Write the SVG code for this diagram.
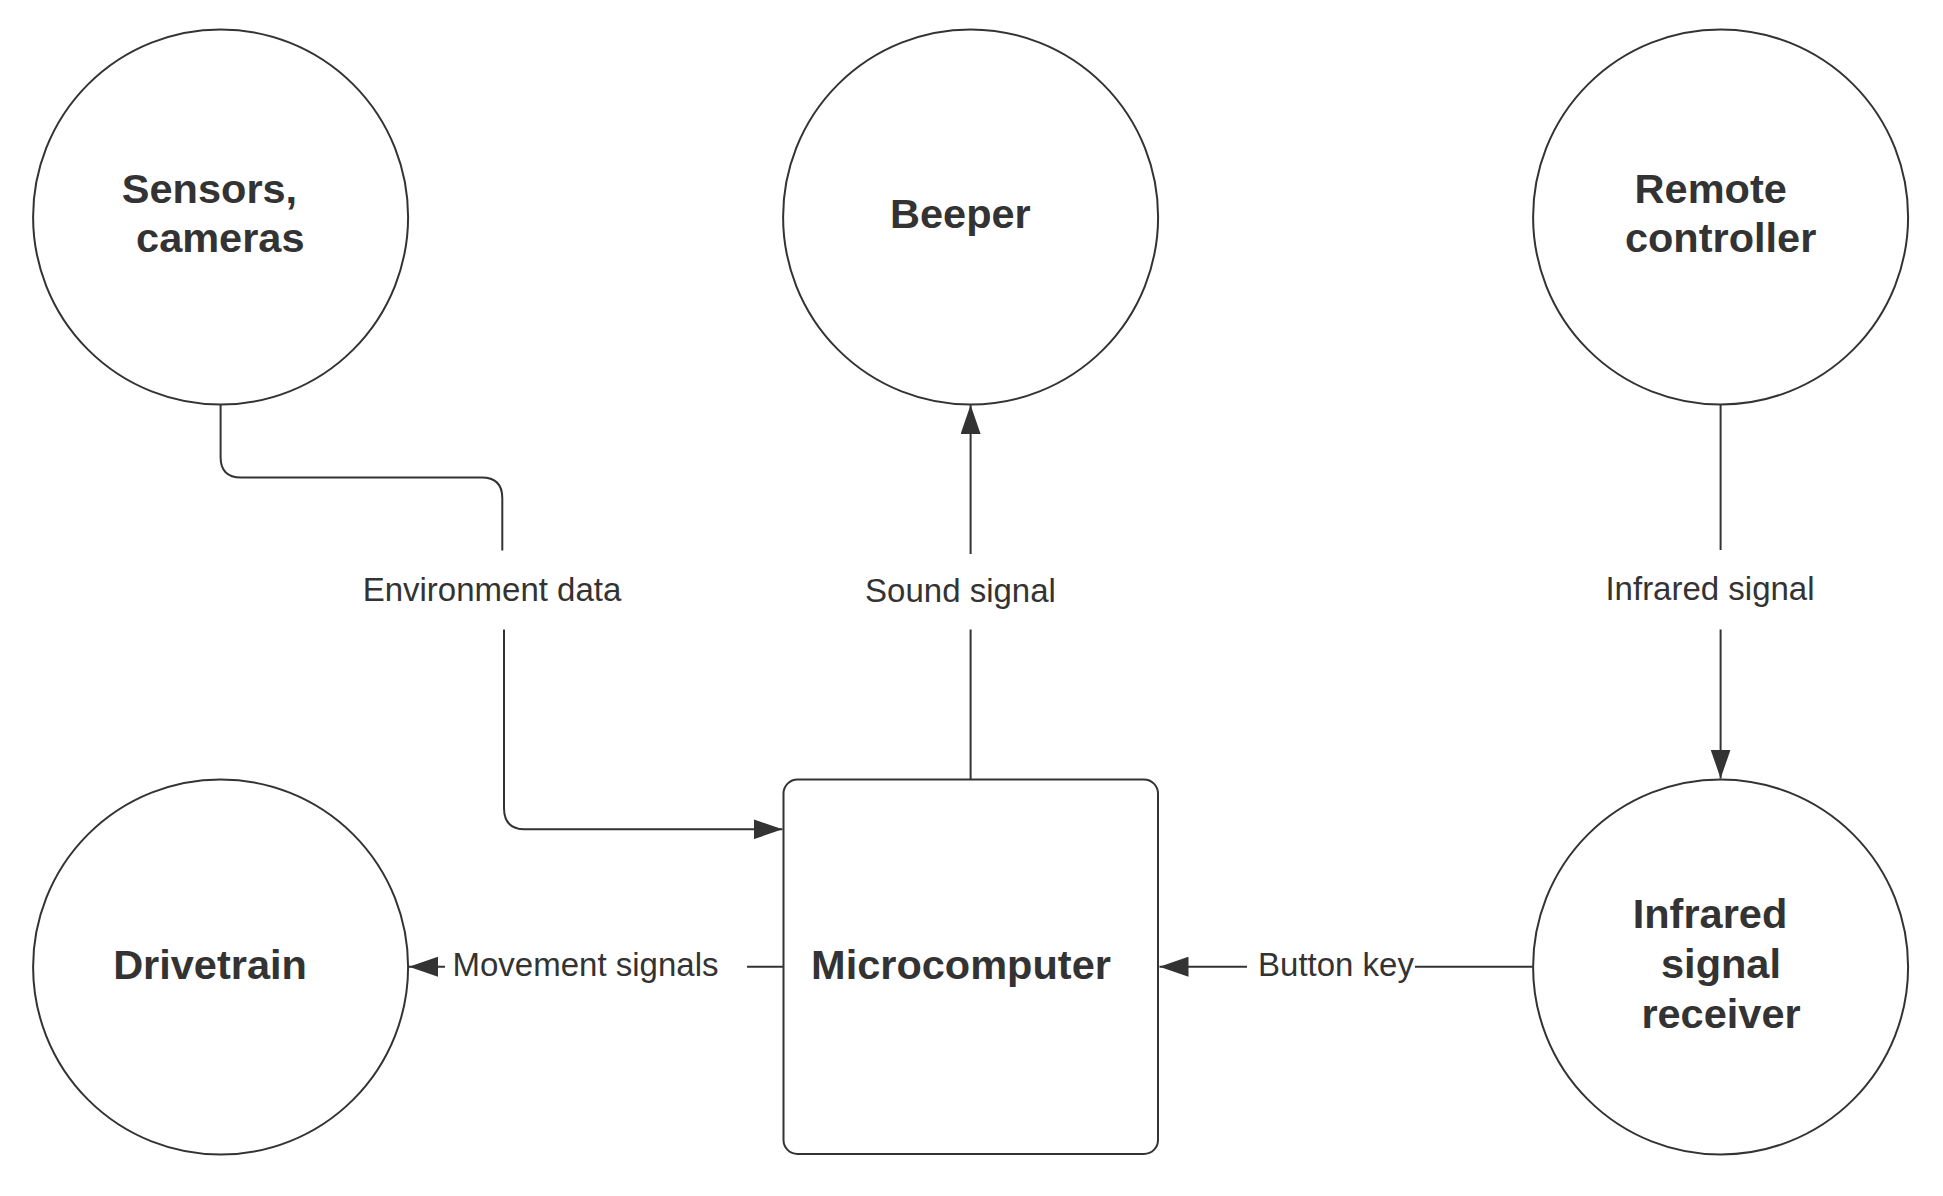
<svg xmlns="http://www.w3.org/2000/svg" width="1943" height="1196" viewBox="0 0 1943 1196">
  <style>
    .node { fill: #ffffff; stroke: #333333; stroke-width: 2; }
    .title { font-family: "Liberation Sans", Arial, sans-serif; font-weight: bold; font-size: 41.5px; fill: #333333; text-anchor: middle; }
    .label { font-family: "Liberation Sans", Arial, sans-serif; font-size: 33px; fill: #333333; text-anchor: middle; }
    .conn { fill: none; stroke: #333333; stroke-width: 2; }
  </style>
  <defs>
    <marker id="arrow" markerUnits="userSpaceOnUse" markerWidth="30" markerHeight="20" refX="29" refY="10" orient="auto">
      <path d="M0,0 L29,10 L0,20 Z" fill="#333333"/>
    </marker>
  </defs>
  <rect width="1943" height="1196" fill="#ffffff"/>

  <g id="connectors">
    <path class="conn" d="M220.6,404.5 V457 Q220.6,477.5 241,477.5 H481.5 Q502.3,477.5 502.3,498 V550.5"/>
    <path class="conn" d="M504,629.5 V808 Q504,829.3 525,829.3 H782.5" marker-end="url(#arrow)"/>
    <path class="conn" d="M970.6,779.5 V629.5"/>
    <path class="conn" d="M970.6,554 V405" marker-end="url(#arrow)"/>
    <path class="conn" d="M1720.6,404.5 V550"/>
    <path class="conn" d="M1720.6,629.5 V778.5" marker-end="url(#arrow)"/>
    <path class="conn" d="M1532.5,966.7 H1415"/>
    <path class="conn" d="M1247,966.7 H1159.5" marker-end="url(#arrow)"/>
    <path class="conn" d="M783.5,966.7 H747"/>
    <path class="conn" d="M445,966.7 H409" marker-end="url(#arrow)"/>
    <text class="label" x="492" y="600.7">Environment data</text>
    <text class="label" x="960.5" y="601.5">Sound signal</text>
    <text class="label" x="1710" y="600">Infrared signal</text>
    <text class="label" x="1336" y="976">Button key</text>
    <text class="label" x="585.5" y="976">Movement signals</text>
  </g>

  <g id="sensors">
    <circle class="node" cx="220.6" cy="217" r="187.5"/>
    <text class="title" x="209.5" y="202.7">Sensors,</text>
    <text class="title" x="220.3" y="251.7">cameras</text>
  </g>
  <g id="beeper">
    <circle class="node" cx="970.6" cy="217" r="187.5"/>
    <text class="title" x="960.4" y="227.5">Beeper</text>
  </g>
  <g id="remote">
    <circle class="node" cx="1720.6" cy="217" r="187.5"/>
    <text class="title" x="1710.7" y="202.7">Remote</text>
    <text class="title" x="1720.6" y="251.7">controller</text>
  </g>
  <g id="drivetrain">
    <circle class="node" cx="220.6" cy="967" r="187.5"/>
    <text class="title" x="210" y="978.5">Drivetrain</text>
  </g>
  <g id="microcomputer">
    <rect class="node" x="783.5" y="779.5" width="374.5" height="374.5" rx="14" ry="14"/>
    <text class="title" x="961" y="978.5">Microcomputer</text>
  </g>
  <g id="ir-receiver">
    <circle class="node" cx="1720.6" cy="967" r="187.5"/>
    <text class="title" x="1710" y="927.7">Infrared</text>
    <text class="title" x="1721" y="978.3">signal</text>
    <text class="title" x="1721" y="1027.7">receiver</text>
  </g>
</svg>
